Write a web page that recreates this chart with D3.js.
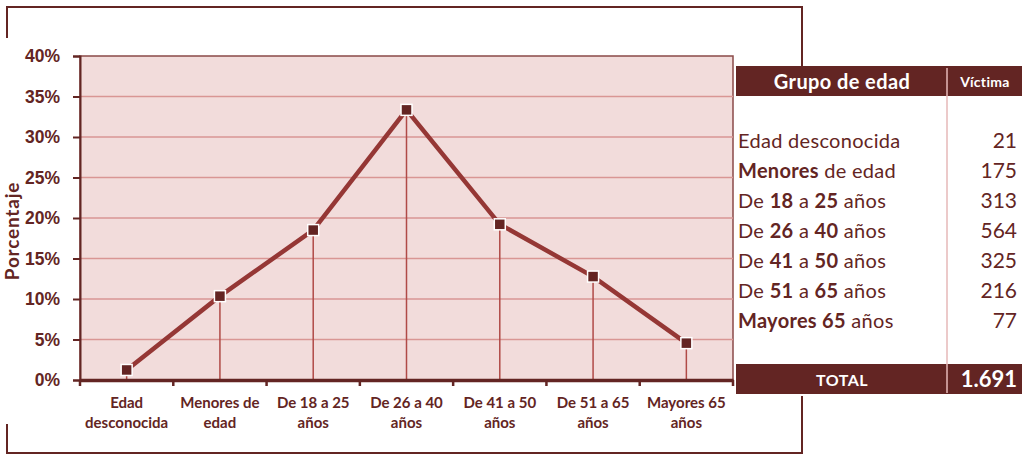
<!DOCTYPE html>
<html>
<head>
<meta charset="utf-8">
<script src="https://cdn.jsdelivr.net/npm/d3@7"></script>
<style>
  body { margin: 0; background: #fff; }
  svg { display: block; font-family: Lato, "Open Sans", sans-serif; }
</style>
</head>
<body>
<svg id="chart" width="1024" height="454"></svg>
<script>
// data
const groups = ['Edad desconocida', 'Menores de edad', 'De 18 a 25 años', 'De 26 a 40 años',
  'De 41 a 50 años', 'De 51 a 65 años', 'Mayores 65 años']
const xLabels = [['Edad', 'desconocida'], ['Menores de', 'edad'], ['De 18 a 25', 'años'], ['De 26 a 40', 'años'],
  ['De 41 a 50', 'años'], ['De 51 a 65', 'años'], ['Mayores 65', 'años']]
const percents = [1.24, 10.35, 18.51, 33.35, 19.22, 12.77, 4.55]
const victims = [21, 175, 313, 564, 325, 216, 77]
const totalLabel = '1.691'
const yTicks = [0, 5, 10, 15, 20, 25, 30, 35, 40]
// table rows: parts as [text, bold]
const rowParts = [
  [['Edad desconocida', false]],
  [['Menores', true], [' de edad', false]],
  [['De ', false], ['18', true], [' a ', false], ['25', true], [' años', false]],
  [['De ', false], ['26', true], [' a ', false], ['40', true], [' años', false]],
  [['De ', false], ['41', true], [' a ', false], ['50', true], [' años', false]],
  [['De ', false], ['51', true], [' a ', false], ['65', true], [' años', false]],
  [['Mayores 65', true], [' años', false]]
]

const dark = '#632523'
const svg = d3.select('#chart')

// outer frame pieces
const frame = svg.append('g').attr('stroke', dark).attr('stroke-width', 2).attr('fill', 'none')
frame.append('path').attr('d', 'M7,38V7H802V66')
frame.append('path').attr('d', 'M7,424V453H802V396')

const plot = {left: 80, top: 56, right: 733, bottom: 380}

const x = d3.scaleBand().domain(groups).range([plot.left, plot.right]).padding(0)
const y = d3.scaleLinear().domain([0, 40]).range([plot.bottom, plot.top])

svg.append('rect')
  .attr('x', plot.left).attr('y', plot.top)
  .attr('width', plot.right - plot.left).attr('height', plot.bottom - plot.top)
  .attr('fill', '#f2dcdb')
  .attr('stroke', '#8a4a48').attr('stroke-width', 1.5)

// gridlines
svg.append('g').selectAll('line')
  .data(yTicks.filter(d => d > 0 && d < 40))
  .join('line')
  .attr('x1', plot.left).attr('x2', plot.right)
  .attr('y1', d => y(d)).attr('y2', d => y(d))
  .attr('stroke', '#d99694').attr('stroke-width', 1.5)

// y axis
const yAxis = svg.append('g')
  .attr('transform', `translate(${plot.left},0)`)
  .call(d3.axisLeft(y).tickValues(yTicks).tickFormat(d => d + '%').tickSize(7).tickPadding(13))
yAxis.select('.domain').attr('stroke', dark).attr('stroke-width', 2)
yAxis.selectAll('.tick line').attr('stroke', dark).attr('stroke-width', 2)
yAxis.selectAll('.tick text')
  .attr('fill', dark).attr('font-size', 17.5).attr('font-weight', 'bold')

// drop lines
svg.append('g').selectAll('line')
  .data(groups)
  .join('line')
  .attr('x1', d => x(d) + x.bandwidth() / 2).attr('x2', d => x(d) + x.bandwidth() / 2)
  .attr('y1', (d, i) => y(percents[i])).attr('y2', plot.bottom)
  .attr('stroke', '#b04a47').attr('stroke-width', 1.5)

// x axis
const xAxis = svg.append('g')
  .attr('transform', `translate(0,${plot.bottom})`)
  .call(d3.axisBottom(x).tickSize(0).tickFormat(''))
xAxis.select('.domain').attr('stroke', dark).attr('stroke-width', 3.5)
xAxis.selectAll('.tick').remove()
svg.append('g').selectAll('line')
  .data(d3.range(groups.length + 1))
  .join('line')
  .attr('x1', i => plot.left + i * x.bandwidth()).attr('x2', i => plot.left + i * x.bandwidth())
  .attr('y1', plot.bottom).attr('y2', plot.bottom + 6)
  .attr('stroke', dark).attr('stroke-width', 2.5)

svg.append('g').selectAll('text')
  .data(groups)
  .join('text')
  .attr('x', d => x(d) + x.bandwidth() / 2)
  .attr('y', 408)
  .attr('text-anchor', 'middle')
  .attr('fill', dark).attr('font-size', 15).attr('font-weight', 'bold')
  .each(function (d, i) {
    const t = d3.select(this)
    xLabels[i].forEach((s, k) => {
      t.append('tspan').attr('x', x(d) + x.bandwidth() / 2).attr('dy', k ? 20 : 0).text(s)
    })
  })

// y title
svg.append('text')
  .attr('transform', 'translate(19,231) rotate(-90)')
  .attr('text-anchor', 'middle')
  .attr('fill', dark).attr('font-size', 19).attr('font-weight', 'bold')
  .attr('letter-spacing', 0.8)
  .text('Porcentaje')

// line
const line = d3.line()
  .x(d => x(d.g) + x.bandwidth() / 2)
  .y(d => y(d.v))
const pts = groups.map((g, i) => ({g, v: percents[i]}))
svg.append('path')
  .datum(pts)
  .attr('d', line)
  .attr('fill', 'none')
  .attr('stroke', '#953735').attr('stroke-width', 4.5)

svg.append('g').selectAll('rect')
  .data(pts)
  .join('rect')
  .attr('x', d => x(d.g) + x.bandwidth() / 2 - 5.5)
  .attr('y', d => y(d.v) - 5.5)
  .attr('width', 11).attr('height', 11)
  .attr('fill', dark).attr('stroke', '#fff').attr('stroke-width', 1.5)

// table
const tbl = {left: 736, right: 1022, div: 947}
svg.append('rect').attr('x', tbl.left).attr('y', 66).attr('width', tbl.right - tbl.left).attr('height', 30).attr('fill', dark)
svg.append('rect').attr('x', tbl.left).attr('y', 364).attr('width', tbl.right - tbl.left).attr('height', 30).attr('fill', dark)
svg.append('line')
  .attr('x1', tbl.div).attr('x2', tbl.div).attr('y1', 68).attr('y2', 393)
  .attr('stroke', '#e6b9b8').attr('stroke-width', 1.5)

svg.append('text').attr('x', 842).attr('y', 89).attr('text-anchor', 'middle')
  .attr('fill', '#fff').attr('font-size', 20).attr('font-weight', 'bold').attr('letter-spacing', 0.4)
  .text('Grupo de edad')
svg.append('text').attr('x', 985).attr('y', 87).attr('text-anchor', 'middle')
  .attr('fill', '#fff').attr('font-size', 14).attr('font-weight', 'bold').attr('letter-spacing', 0.3)
  .text('Víctima')

const rowY = d3.scaleLinear().domain([0, 1]).range([148, 178])
svg.append('g').selectAll('text')
  .data(rowParts)
  .join('text')
  .attr('x', 738)
  .attr('y', (d, i) => rowY(i))
  .attr('fill', dark).attr('font-size', 20).attr('letter-spacing', 0.3)
  .each(function (parts) {
    d3.select(this).selectAll('tspan')
      .data(parts)
      .join('tspan')
      .attr('font-weight', p => p[1] ? 'bold' : 'normal')
      .text(p => p[0])
  })

svg.append('g').selectAll('text')
  .data(victims)
  .join('text')
  .attr('x', 1017)
  .attr('y', (d, i) => rowY(i))
  .attr('text-anchor', 'end')
  .attr('fill', dark).attr('font-size', 21)
  .text(d => d)

svg.append('text').attr('x', 842).attr('y', 386).attr('text-anchor', 'middle')
  .attr('fill', '#fff').attr('font-size', 16).attr('font-weight', 'bold').attr('letter-spacing', 0.5)
  .text('TOTAL')
svg.append('text').attr('x', 1017).attr('y', 387).attr('text-anchor', 'end')
  .attr('fill', '#fff').attr('font-size', 22).attr('font-weight', 'bold').text(totalLabel)
</script>
</body>
</html>
